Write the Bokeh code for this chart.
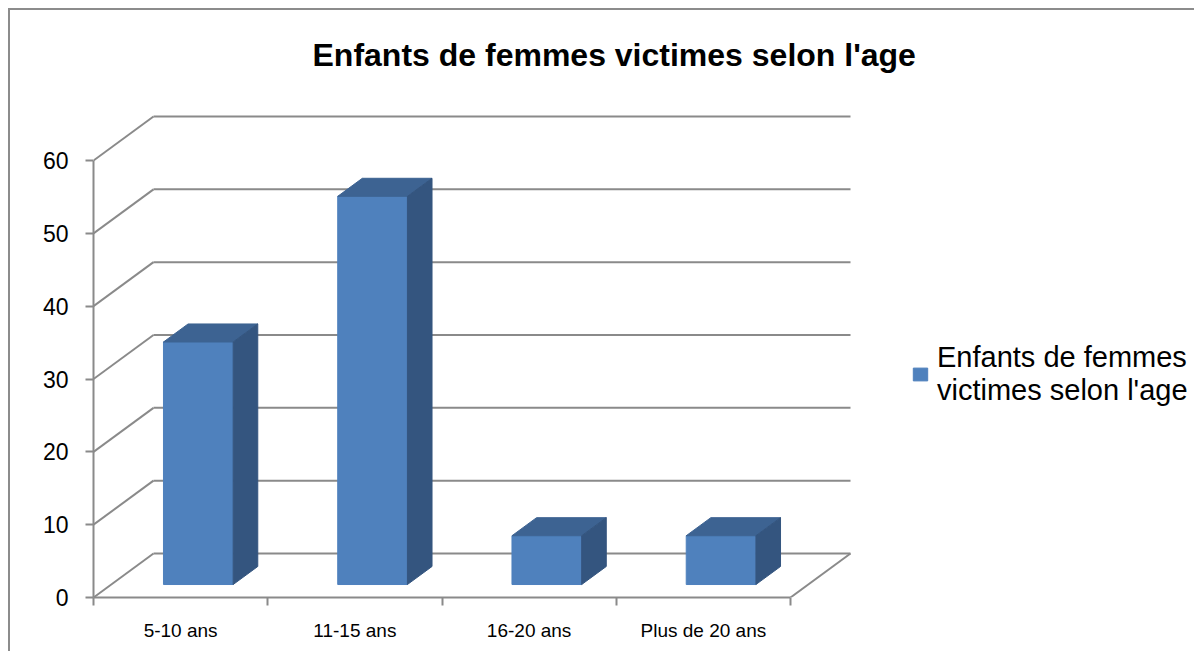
from bokeh.plotting import figure
from bokeh.models import FixedTicker, Range1d, Legend, LegendItem
from bokeh.embed import file_html
from bokeh.resources import INLINE

# ---- data ----
categories = ["5-10 ans", "11-15 ans", "16-20 ans", "Plus de 20 ans"]
values = [33.3, 53.3, 6.7, 6.7]
y_ticks = [0, 10, 20, 30, 40, 50, 60]
series_name = "Enfants de femmes\nvictimes selon l'age"
title_text = "Enfants de femmes victimes selon l'age"

# ---- 3D geometry (in data units) ----
PX_PER_CAT = 174.25
PX_PER_UNIT = 7.283
DX = 60 / PX_PER_CAT       # depth offset along x
DY = 44 / PX_PER_UNIT      # depth offset along y
BAR_W = 0.40
F1, F2 = 0.295, 0.705       # bar front/back depth fractions

GRID = "#8a8a8a"
FRONT = "#4F81BD"
TOP = "#3D6392"
SIDE = "#34557F"

p = figure(width=1186, height=643,
           x_range=Range1d(0, 1097 / PX_PER_CAT), y_range=Range1d(0, 517 / PX_PER_UNIT),
           output_backend="svg", toolbar_location=None,
           min_border_left=83, min_border_right=6, min_border_top=70, min_border_bottom=56,
           background_fill_color="white", border_fill_color="white",
           outline_line_color=None, title=title_text)
p.styles = {"border-left": "2px solid #8c8c8c", "border-top": "2px solid #8c8c8c",
            "margin-left": "8px", "margin-top": "8px"}
p.xgrid.visible = False
p.ygrid.visible = False

p.title.align = "left"
p.title.offset = 219
p.title.standoff = 15
p.title.text_font = "Liberation Sans"
p.title.text_font_size = "32px"
p.title.text_font_style = "bold"
p.title.text_color = "black"

# ---- walls ----
n = len(categories)
back_xs = [[DX, n + DX] for _ in y_ticks]
back_ys = [[t + DY, t + DY] for t in y_ticks]
side_xs = [[0, DX] for _ in y_ticks]
side_ys = [[t, t + DY] for t in y_ticks]
floor_xs = [[n, n + DX]]
floor_ys = [[0, DY]]
p.multi_line(xs=back_xs + side_xs + floor_xs, ys=back_ys + side_ys + floor_ys,
             line_color=GRID, line_width=2)

# ---- bars ----
front_xs, front_ys, top_xs, top_ys, side_xs2, side_ys2 = [], [], [], [], [], []
ddx = (F2 - F1) * DX
ddy = (F2 - F1) * DY
for i, v in enumerate(values):
    x0 = i + 0.5 - BAR_W / 2 + F1 * DX
    x1 = i + 0.5 + BAR_W / 2 + F1 * DX
    y0 = F1 * DY
    y1 = v + F1 * DY
    front_xs.append([x0, x1, x1, x0]); front_ys.append([y0, y0, y1, y1])
    top_xs.append([x0, x1, x1 + ddx, x0 + ddx]); top_ys.append([y1, y1, y1 + ddy, y1 + ddy])
    side_xs2.append([x1, x1 + ddx, x1 + ddx, x1]); side_ys2.append([y0, y0 + ddy, y1 + ddy, y1])

front = p.patches(xs=front_xs, ys=front_ys, fill_color=FRONT, line_color=FRONT, line_width=1)
p.patches(xs=top_xs, ys=top_ys, fill_color=TOP, line_color=TOP, line_width=1)
p.patches(xs=side_xs2, ys=side_ys2, fill_color=SIDE, line_color=SIDE, line_width=1)

# ---- axes ----
ya = p.yaxis[0]
ya.ticker = FixedTicker(ticks=y_ticks)
ya.bounds = (0, 60)
ya.axis_line_color = GRID
ya.axis_line_width = 2
ya.major_tick_line_color = GRID
ya.major_tick_line_width = 2
ya.major_tick_out = 8
ya.major_tick_in = 0
ya.minor_tick_line_color = None
ya.major_label_text_font = "Liberation Sans"
ya.major_label_text_font_size = "23px"
ya.major_label_text_color = "black"
ya.major_label_standoff = 17

xa = p.xaxis[0]
xa.ticker = FixedTicker(ticks=[i + 0.5 for i in range(n)], minor_ticks=list(range(n + 1)))
xa.major_label_overrides = {i + 0.5: c for i, c in enumerate(categories)}
xa.bounds = (0, n)
xa.axis_line_color = GRID
xa.axis_line_width = 2
xa.major_tick_line_color = None
xa.major_tick_out = 0
xa.major_tick_in = 0
xa.minor_tick_line_color = GRID
xa.minor_tick_line_width = 2
xa.minor_tick_out = 8
xa.minor_tick_in = 0
xa.major_label_text_font = "Liberation Sans"
xa.major_label_text_font_size = "19px"
xa.major_label_text_color = "black"
xa.major_label_standoff = 14

# ---- legend ----
legend = Legend(items=[LegendItem(label=series_name, renderers=[front])],
                location=(818, 190), padding=0, margin=0,
                border_line_color=None, background_fill_alpha=0,
                glyph_width=18, glyph_height=16, label_standoff=8,
                label_text_font="Liberation Sans", label_text_font_size="29px",
                label_text_line_height=1.5,
                label_text_color="black")
p.add_layout(legend)

open("out.html", "w").write(file_html(p, INLINE))
